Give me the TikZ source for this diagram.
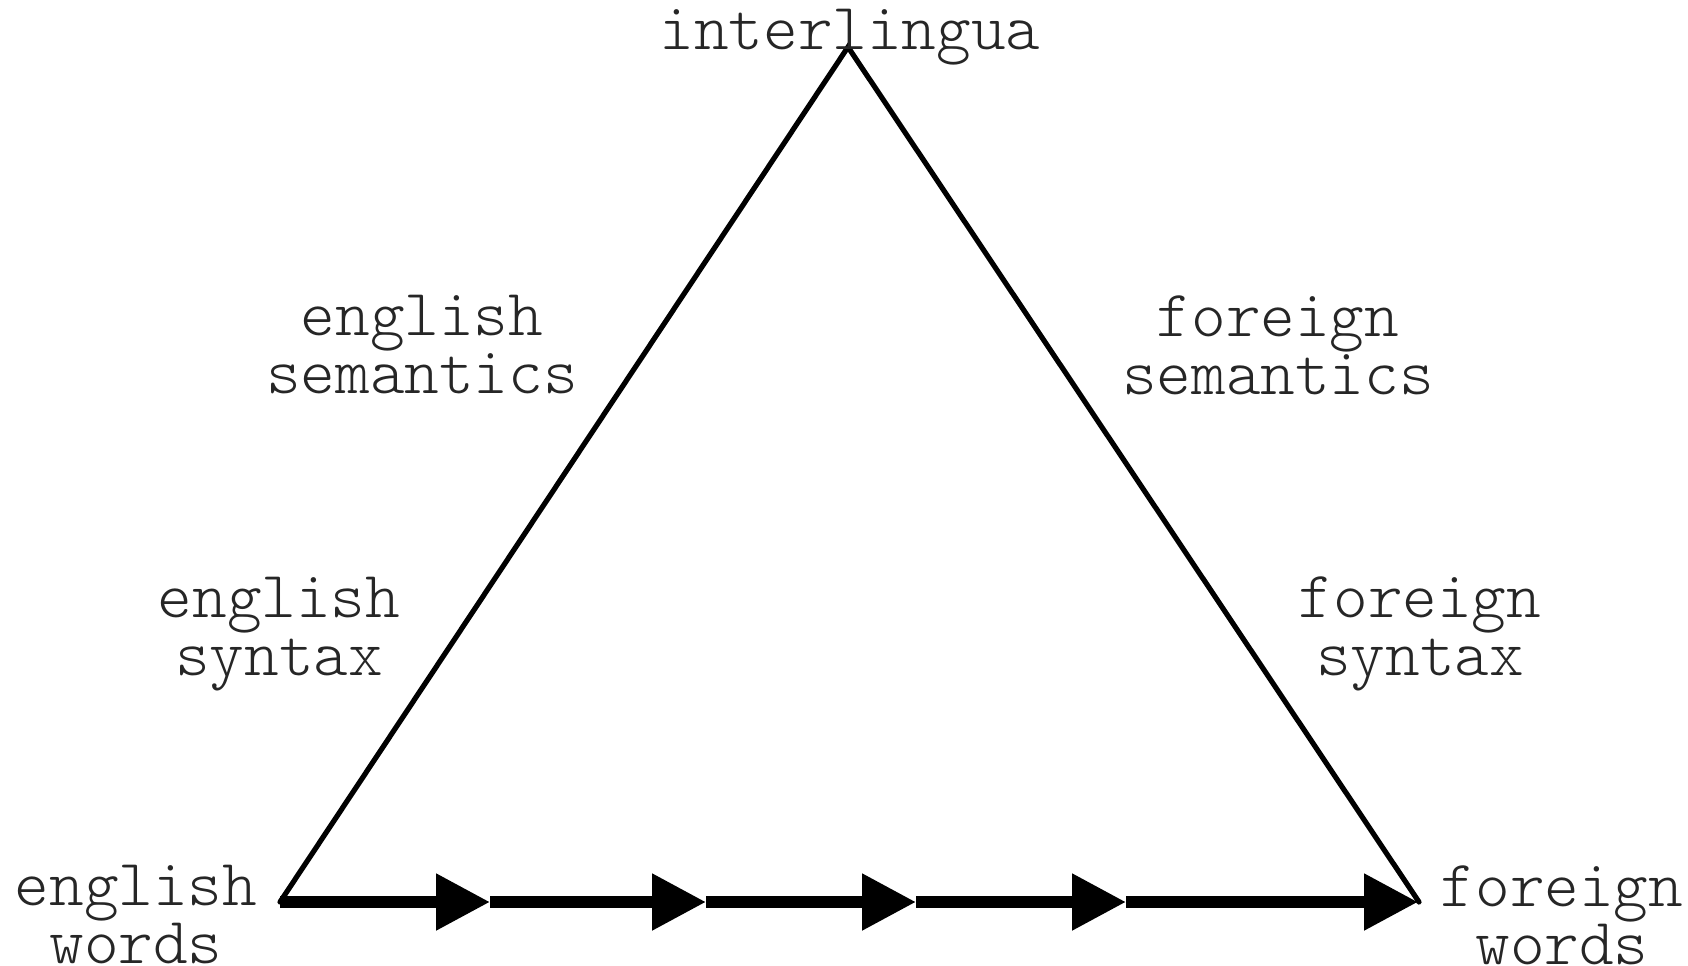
\documentclass[tikz,border=0pt]{standalone}
\usetikzlibrary{arrows.meta}
\begin{document}
\begin{tikzpicture}[x=0.5pt,y=-0.5pt,
  lbl/.style={font=\fontsize{33}{29}\ttfamily\fontseries{l}\selectfont, text=black!85,
              align=center, inner sep=0pt},
  side/.style={line width=2.6pt, line cap=round, line join=miter},
  flow/.style={line width=5.8pt, -{Triangle[length=27pt,width=27pt]}}]
  \useasboundingbox (0,0) rectangle (1688,965);

  % corners of the triangle
  \coordinate (top) at (848,47);
  \coordinate (ew) at (280,902);
  \coordinate (fw) at (1419,902);

  % tips of the chain of steps along the base
  \coordinate (s1) at (490,902);
  \coordinate (s2) at (706,902);
  \coordinate (s3) at (916,902);
  \coordinate (s4) at (1126,902);
  \coordinate (s5) at (1418,902);

  % sides
  \draw[side] (ew) -- (top) -- (fw);

  % base: direct transfer, word by word
  \draw[flow] (ew) -- (s1);
  \draw[flow] (s1) -- (s2);
  \draw[flow] (s2) -- (s3);
  \draw[flow] (s3) -- (s4);
  \draw[flow] (s4) -- (s5);

  % labels
  \node[lbl] (il) at (850,37) {interlingua};
  \node[lbl] (esem) at (422,345) {english\\semantics};
  \node[lbl] (fsem) at (1278,345) {foreign\\semantics};
  \node[lbl] (esyn) at (279,634) {english\\syntax};
  \node[lbl] (fsyn) at (1420,634) {foreign\\syntax};
  \node[lbl] (ewl) at (136,915) {english\\words};
  \node[lbl] (fwl) at (1562,915) {foreign\\words};
\end{tikzpicture}
\end{document}
